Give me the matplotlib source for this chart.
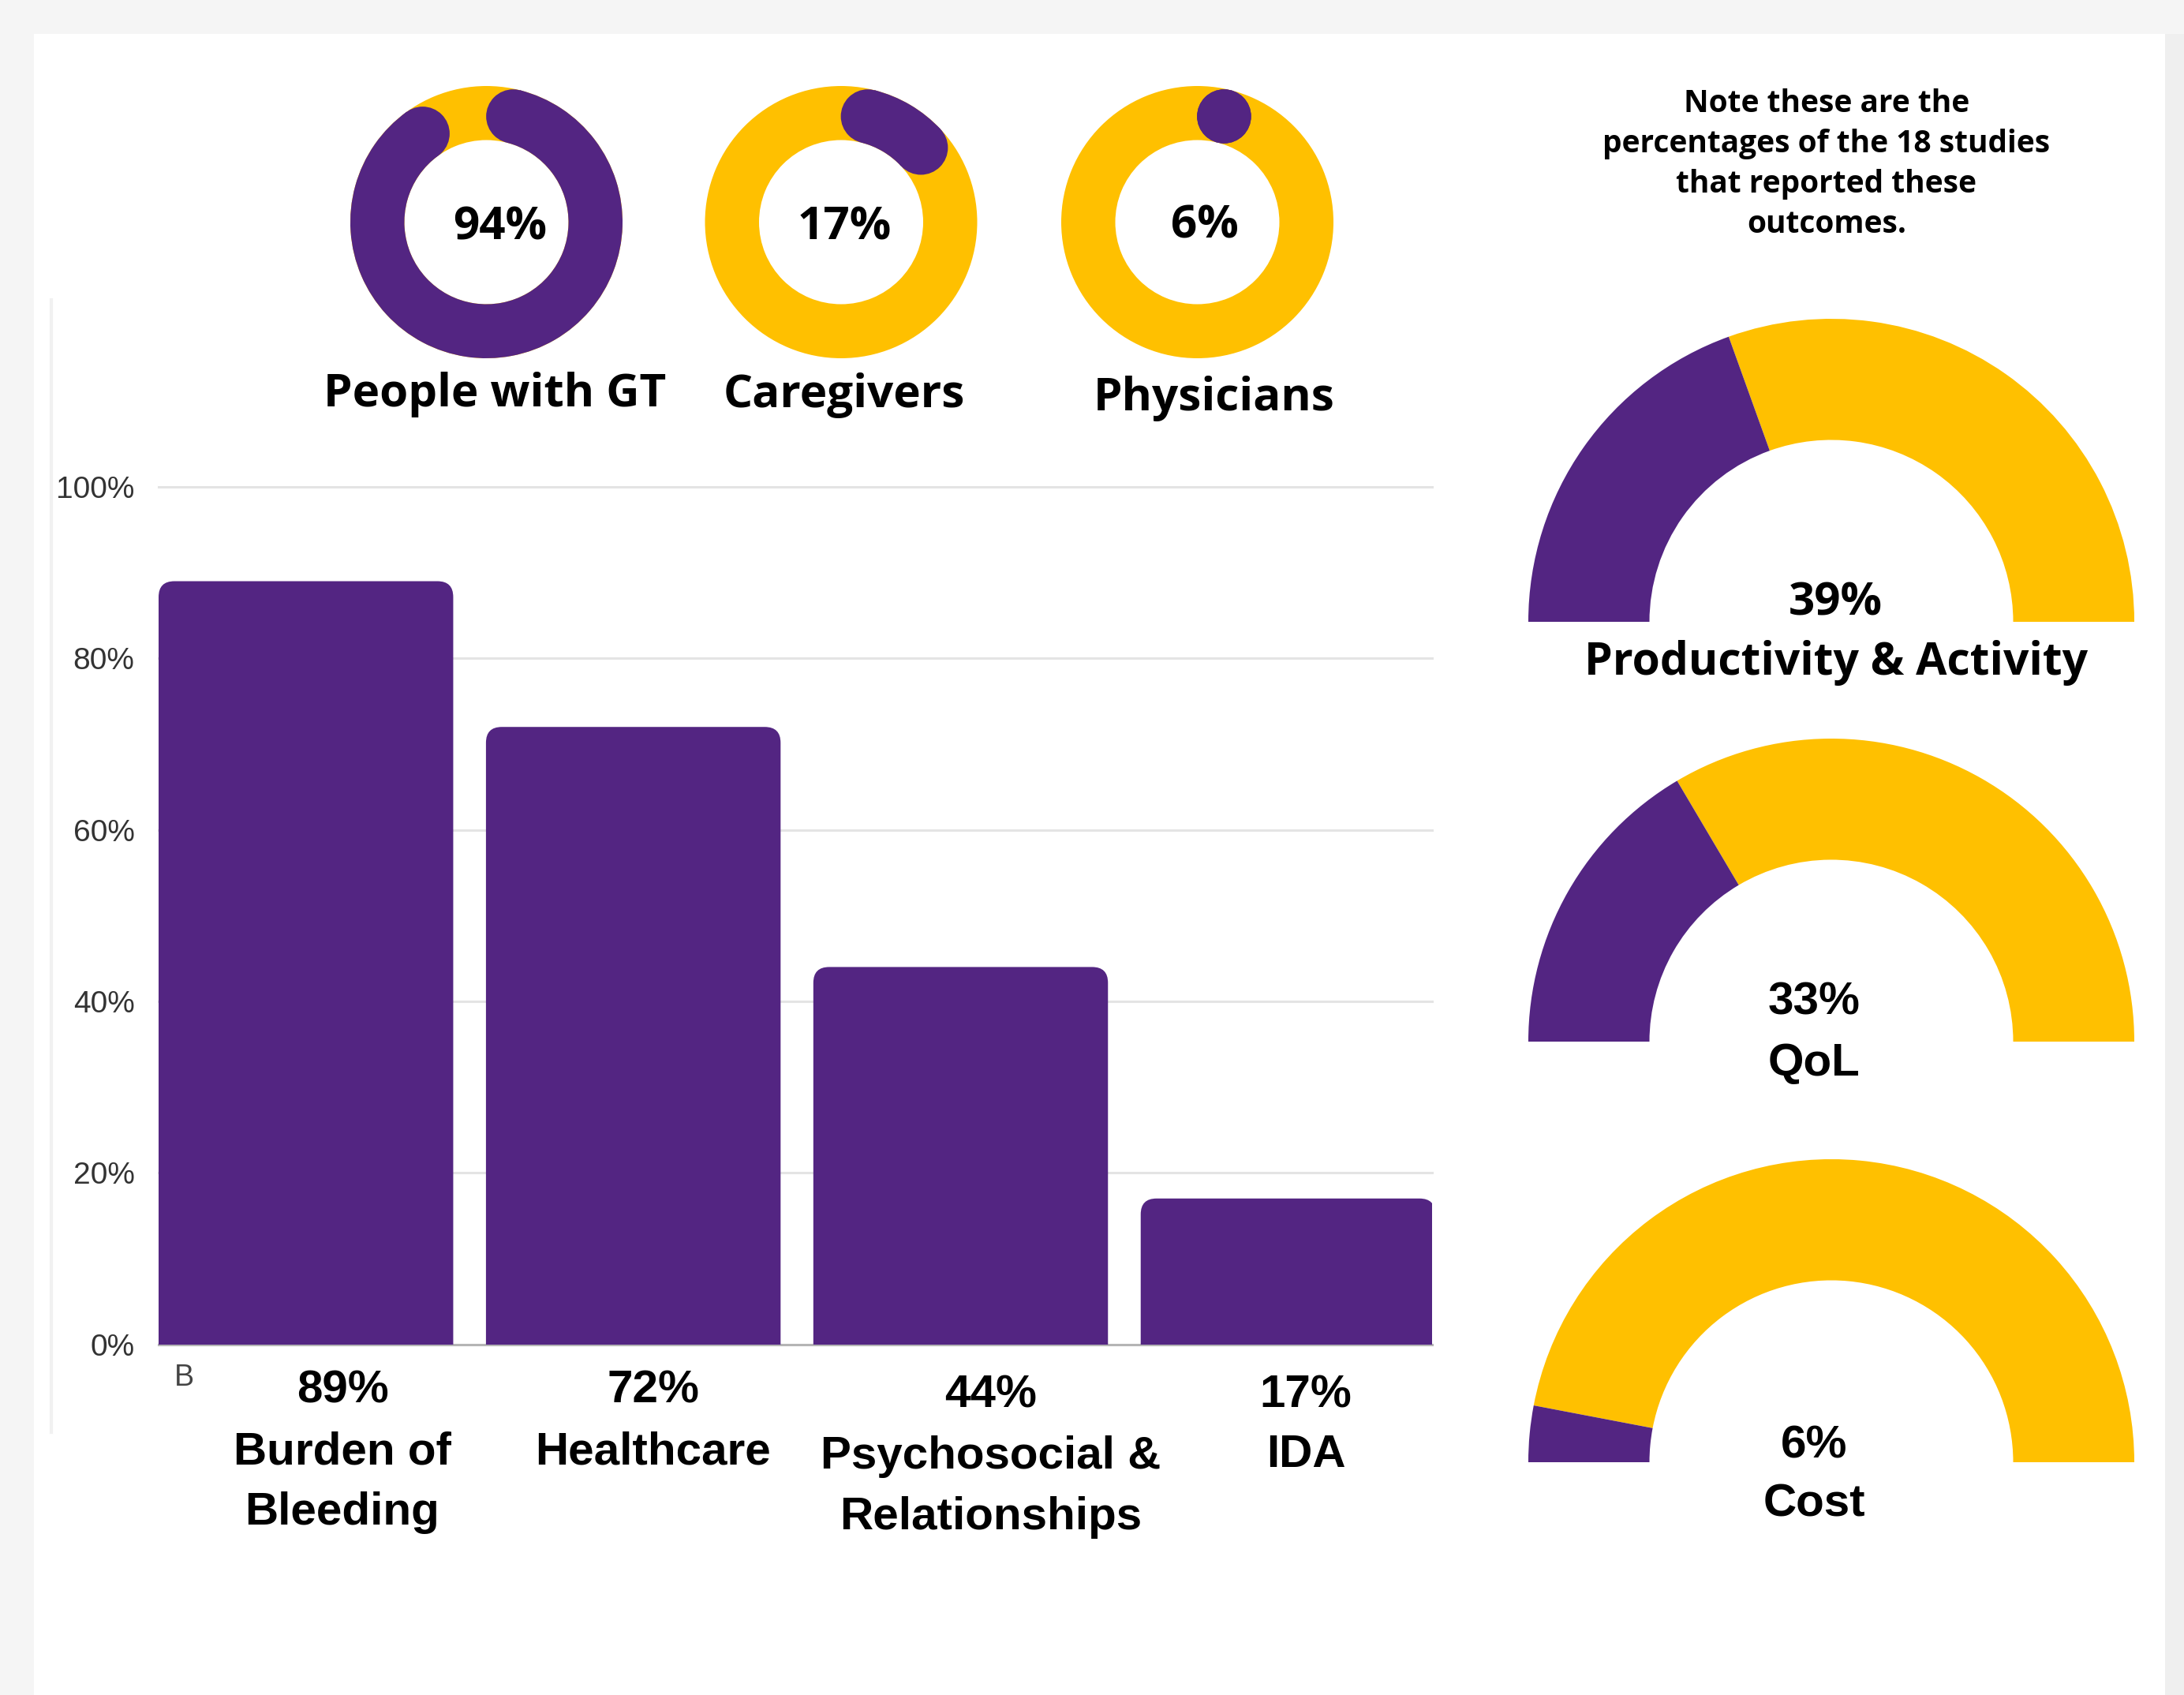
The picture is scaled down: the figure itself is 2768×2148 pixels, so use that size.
import numpy as np
import matplotlib
matplotlib.use('Agg')
import matplotlib.pyplot as plt
from matplotlib.patches import Wedge, Circle, Rectangle, FancyBboxPatch
from matplotlib.lines import Line2D

# ---------------- data ----------------
bar_pct_labels = ["89%", "72%", "44%", "17%"]
bar_categories = [["Burden of", "Bleeding"], ["Healthcare"], ["Psychosocial &", "Relationships"], ["IDA"]]
bar_values = [89, 72, 44, 17]
y_ticks = [0, 20, 40, 60, 80, 100]
y_tick_labels = ["0%", "20%", "40%", "60%", "80%", "100%"]
donut_labels = ["People with GT", "Caregivers", "Physicians"]
donut_values = [94, 17, 6]
gauge_labels = ["Productivity & Activity", "QoL", "Cost"]
gauge_values = [39, 33, 6]
note_lines = ["Note these are the", "percentages of the 18 studies",
              "that reported these", "outcomes."]
stray_label = "B"

# ---------------- style / layout ----------------
PURPLE = '#532582'
GOLD = '#FFC000'
W, H = 2768, 2148
DPI = 100
SANS2 = 'Open Sans'

fig = plt.figure(figsize=(W / DPI, H / DPI), dpi=DPI, facecolor='#f5f5f5')

canvas = fig.add_axes([0, 0, 1, 1], zorder=0)
canvas.set_xlim(0, W)
canvas.set_ylim(0, H)
canvas.axis('off')


def Y(y):
    return H - y


# white card
canvas.add_patch(Rectangle((43, 0), 2744 - 43, H - 43, facecolor='white', edgecolor='none'))
canvas.add_patch(Rectangle((2744, 0), W - 2744, H - 43, facecolor='#efefef', edgecolor='none'))
canvas.add_line(Line2D([65, 65], [Y(380), Y(1815)], color='#f1f1f1', lw=3))

# ---------------- bar chart ----------------
ax_l, ax_r, ax_t, ax_b = 201, 1815, 617, 1703.5
ax = fig.add_axes([ax_l / W, (H - ax_b) / H, (ax_r - ax_l) / W, (ax_b - ax_t) / H], zorder=1)
ax.patch.set_alpha(0)
ax.set_xlim(-0.45, 3.44)
ax.set_ylim(0, 100)
for s in ax.spines.values():
    s.set_visible(False)
ax.set_yticks(y_ticks)
ax.set_yticklabels(y_tick_labels, fontfamily='Liberation Sans', fontsize=28, color='#333333')
ax.tick_params(axis='y', length=0, pad=22)
ax.set_xticks([])
for t in y_ticks:
    ax.axhline(t, color='#e4e4e4' if t > 0 else '#b5b5b5', lw=2.2, zorder=0, clip_on=False)

bars = ax.bar(range(len(bar_values)), bar_values, width=0.9, color=PURPLE, zorder=2)
# convert to rounded-top bars
p0 = ax.transData.transform((0, 0))
p1 = ax.transData.transform((1, 1))
px_per_x = p1[0] - p0[0]
px_per_y = p1[1] - p0[1]
radius_px = 20
rx = radius_px / px_per_x
asp = (radius_px / px_per_y) / rx
for b in bars:
    b.set_visible(False)
    x0, w, h = b.get_x(), b.get_width(), b.get_height()
    fb = FancyBboxPatch((x0, -10), w, h + 10,
                        boxstyle=f"round,pad=0,rounding_size={rx}",
                        mutation_aspect=asp, facecolor=PURPLE, edgecolor='none', zorder=2)
    ax.add_patch(fb)

canvas.text(221, Y(1756), stray_label, fontfamily='Liberation Sans', fontsize=27,
            color='#444444', ha='left', va='baseline')

bar_lab_x = [434, 828, 1256, 1655]
bar_pct_base = [1778, 1778, 1783, 1783]
bar_cat_base = [1855, 1855, 1861, 1859]
line_gap = 77
for i in range(len(bar_values)):
    canvas.text(bar_lab_x[i], Y(bar_pct_base[i]), bar_pct_labels[i], fontfamily='Liberation Sans',
                fontweight='bold', fontsize=42, ha='center', va='baseline', color='black')
    for j, line in enumerate(bar_categories[i]):
        canvas.text(bar_lab_x[i], Y(bar_cat_base[i] + j * line_gap), line, fontfamily='Liberation Sans',
                    fontweight='bold', fontsize=42, ha='center', va='baseline', color='black')

# ---------------- donuts ----------------
donut_cx = [616.5, 1066, 1517.5]
donut_cy = 281.5
r_out = 172.5
ring_w = 68.5
r_mid = r_out - ring_w / 2
cap_deg = np.degrees((ring_w / 2) / r_mid)
donut_pct_x = [634, 1070, 1527]
donut_pct_base = [303.5, 303.5, 301]
donut_lab_x = [627, 1070, 1538.5]
donut_lab_base = [515, 516, 520]

for i, v in enumerate(donut_values):
    cx, cy = donut_cx[i], Y(donut_cy)
    canvas.add_patch(Wedge((cx, cy), r_out, 0, 360, width=ring_w, facecolor=GOLD, edgecolor='none'))
    start = 90 - cap_deg
    end = 90 - v / 100 * 360 + cap_deg
    if end > start:
        end = start
    if start > end:
        canvas.add_patch(Wedge((cx, cy), r_out, end, start, width=ring_w,
                               facecolor=PURPLE, edgecolor='none'))
    for a in (start, end):
        ar = np.radians(a)
        canvas.add_patch(Circle((cx + r_mid * np.cos(ar), cy + r_mid * np.sin(ar)), ring_w / 2,
                                facecolor=PURPLE, edgecolor='none'))
    canvas.text(donut_pct_x[i], Y(donut_pct_base[i]), f"{v}%", fontfamily=SANS2,
                fontweight='bold', fontsize=42, ha='center', va='baseline', color='black')
    canvas.text(donut_lab_x[i], Y(donut_lab_base[i]), donut_labels[i], fontfamily=SANS2,
                fontweight='bold', fontsize=42, ha='center', va='baseline', color='black')

# ---------------- note ----------------
note_x = 2315
note_base = [142, 193, 244, 295]
for line, b in zip(note_lines, note_base):
    canvas.text(note_x, Y(b), line, fontfamily=SANS2, fontweight='bold', fontsize=28,
                ha='center', va='baseline', color='black')

# ---------------- gauges ----------------
g_cx = 2321
g_cy = [788, 1320, 1853]
g_rout = 384
g_w = 153.5
g_pct_x = [2326, 2299, 2299]
g_pct_base = [780, 1286, 1847]
g_lab_x = [2327, 2299, 2299]
g_lab_base = [855, 1363, 1921]
g_fonts = [SANS2, 'Liberation Sans', 'Liberation Sans']
g_lab_size = [41, 42, 42]

for i, v in enumerate(gauge_values):
    cx, cy = g_cx, Y(g_cy[i])
    split = 180 - v / 100 * 180
    canvas.add_patch(Wedge((cx, cy), g_rout, 0, split, width=g_w, facecolor=GOLD, edgecolor='none'))
    canvas.add_patch(Wedge((cx, cy), g_rout, split, 180, width=g_w, facecolor=PURPLE, edgecolor='none'))
    canvas.text(g_pct_x[i], Y(g_pct_base[i]), f"{v}%", fontfamily=g_fonts[i], fontweight='bold',
                fontsize=42, ha='center', va='baseline', color='black')
    canvas.text(g_lab_x[i], Y(g_lab_base[i]), gauge_labels[i], fontfamily=g_fonts[i], fontweight='bold',
                fontsize=g_lab_size[i], ha='center', va='baseline', color='black')

fig.savefig('out.png', dpi=DPI, facecolor=fig.get_facecolor())
